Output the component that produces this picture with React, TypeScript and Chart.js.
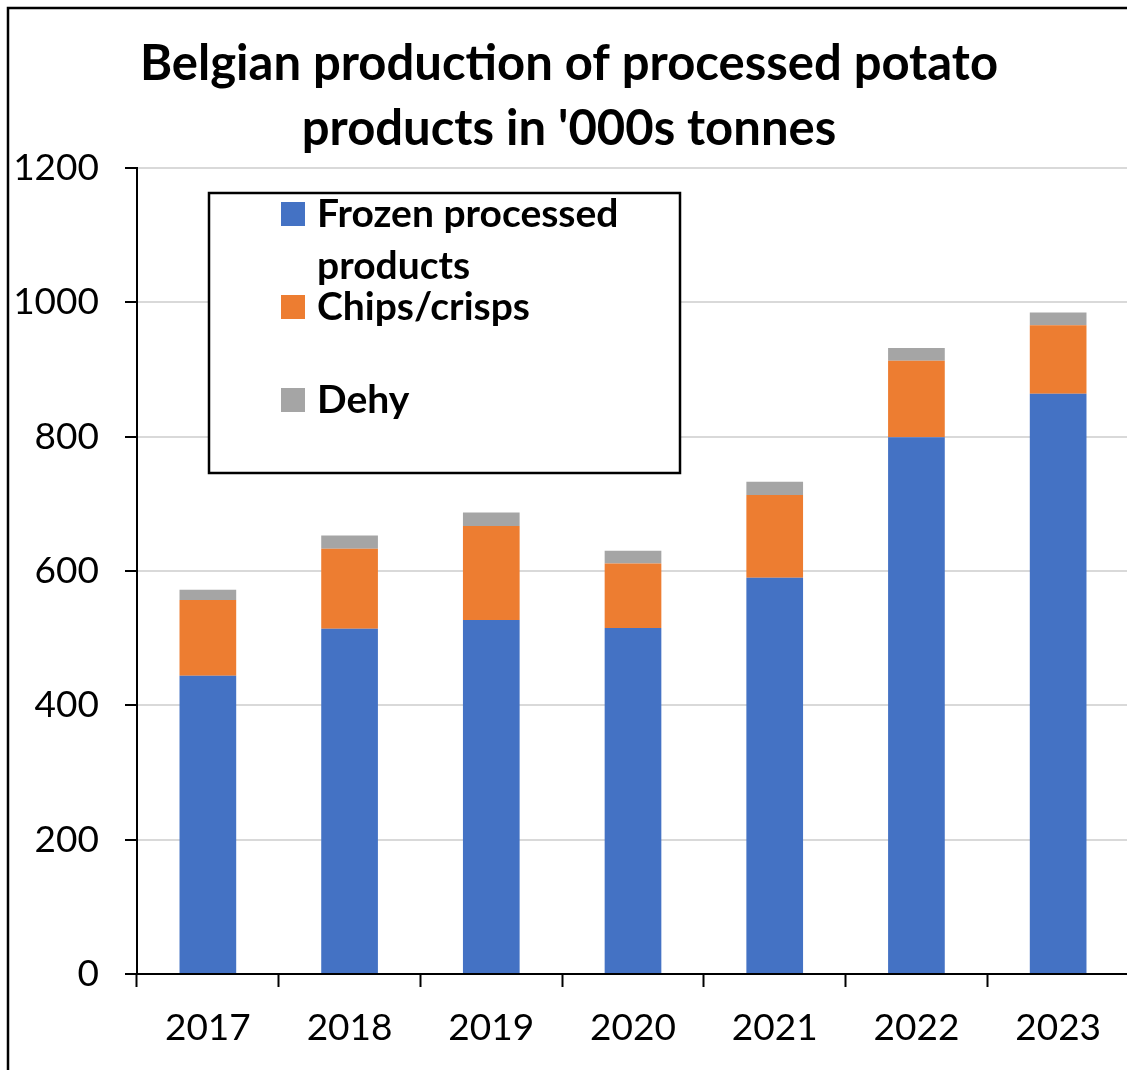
import React, { useEffect, useRef } from "react";
import { Chart, registerables } from "chart.js";

Chart.register(...registerables);

const categories = ["2017", "2018", "2019", "2020", "2021", "2022", "2023"];
const frozenValues = [444, 514, 527, 515, 590, 799, 864];
const chipsValues = [113, 119, 140, 96, 123, 114, 102];
const dehyValues = [15, 20, 20, 19, 20, 19, 19];
const seriesLabels = ["Frozen processed products", "Chips/crisps", "Dehy"];
const seriesColors = ["#4472C4", "#ED7D31", "#A5A5A5"];
const titleLines = ["Belgian production of processed potato", "products in '000s tonnes"];
const yMin = 0;
const yMax = 1200;
const yStep = 200;

const FONT = "Lato, 'Open Sans', sans-serif";

function wrapText(ctx: CanvasRenderingContext2D, text: string, maxWidth: number): string[] {
  const words = text.split(" ");
  const lines: string[] = [];
  let cur = "";
  for (const w of words) {
    const test = cur ? cur + " " + w : w;
    if (ctx.measureText(test).width > maxWidth && cur) {
      lines.push(cur);
      cur = w;
    } else {
      cur = test;
    }
  }
  if (cur) lines.push(cur);
  return lines;
}

const decorPlugin = {
  id: "decor",
  afterDraw(chart: any) {
    const ctx: CanvasRenderingContext2D = chart.ctx;
    ctx.save();
    // outer frame (clipped at right/bottom)
    ctx.strokeStyle = "#000";
    ctx.lineWidth = 2.5;
    ctx.beginPath();
    ctx.moveTo(8, chart.height + 10);
    ctx.lineTo(8, 8);
    ctx.lineTo(chart.width + 10, 8);
    ctx.stroke();

    // title
    ctx.fillStyle = "#000";
    ctx.font = `bold 49px ${FONT}`;
    ctx.textAlign = "center";
    ctx.textBaseline = "alphabetic";
    titleLines.forEach((line, i) => ctx.fillText(line, 569, 80 + i * 65));

    // legend box
    const bx = 209, by = 193, bw = 471, bh = 280;
    ctx.fillStyle = "#fff";
    ctx.fillRect(bx, by, bw, bh);
    ctx.lineWidth = 2.5;
    ctx.strokeStyle = "#000";
    ctx.strokeRect(bx, by, bw, bh);

    ctx.font = `bold 39px ${FONT}`;
    ctx.textAlign = "left";
    chart.data.datasets.forEach((ds: any, i: number) => {
      const top = 202 + i * 93;
      ctx.fillStyle = ds.backgroundColor;
      ctx.fillRect(281, top, 24, 24);
      ctx.fillStyle = "#000";
      const lines = wrapText(ctx, ds.label, 345);
      lines.forEach((l, j) => ctx.fillText(l, 317, top + 25 + j * 51.5));
    });
    ctx.restore();
  },
};

export default function App() {
  const canvasRef = useRef<HTMLCanvasElement | null>(null);

  useEffect(() => {
    if (!canvasRef.current) return;
    const seriesData = [frozenValues, chipsValues, dehyValues];
    const chart = new Chart(canvasRef.current, {
      type: "bar",
      data: {
        labels: categories,
        datasets: seriesLabels.map((label, i) => ({
          label,
          data: seriesData[i],
          backgroundColor: seriesColors[i],
          borderWidth: 0,
          barPercentage: 0.4,
          categoryPercentage: 1.0,
        })),
      },
      options: {
        animation: false,
        responsive: false,
        devicePixelRatio: 1,
        layout: { padding: { top: 168, left: 0, right: 0, bottom: 0 } },
        plugins: {
          legend: { display: false },
          title: { display: false },
          tooltip: { enabled: false },
        },
        scales: {
          x: {
            stacked: true,
            afterFit: (scale: any) => {
              scale.height = 96;
            },
            grid: {
              offset: true,
              drawOnChartArea: false,
              drawTicks: true,
              tickLength: 13,
              tickColor: "#000",
              tickWidth: 2,
            },
            border: { color: "#000", width: 2 },
            ticks: {
              color: "#000",
              font: { family: FONT, size: 37 },
              padding: 19,
              maxRotation: 0,
              autoSkip: false,
            },
          },
          y: {
            stacked: true,
            min: yMin,
            max: yMax,
            afterFit: (scale: any) => {
              scale.width = 137;
            },
            grid: {
              color: (c: any) => (c.tick && c.tick.value === 0 ? "rgba(0,0,0,0)" : "#d9d9d9"),
              lineWidth: 2,
              tickColor: "#000",
              tickLength: 12,
              tickWidth: 2,
            },
            border: { color: "#000", width: 2 },
            ticks: {
              stepSize: yStep,
              color: "#000",
              font: { family: FONT, size: 37 },
              padding: 26,
              callback: (v: any) => String(v),
            },
          },
        },
      },
      plugins: [decorPlugin],
    });
    return () => chart.destroy();
  }, []);

  return (
    <div
      style={{
        position: "absolute",
        left: 0,
        top: 0,
        width: 1127,
        height: 1070,
        overflow: "hidden",
        background: "#fff",
      }}
    >
      <canvas ref={canvasRef} width={1129} height={1070} style={{ display: "block" }} />
    </div>
  );
}
